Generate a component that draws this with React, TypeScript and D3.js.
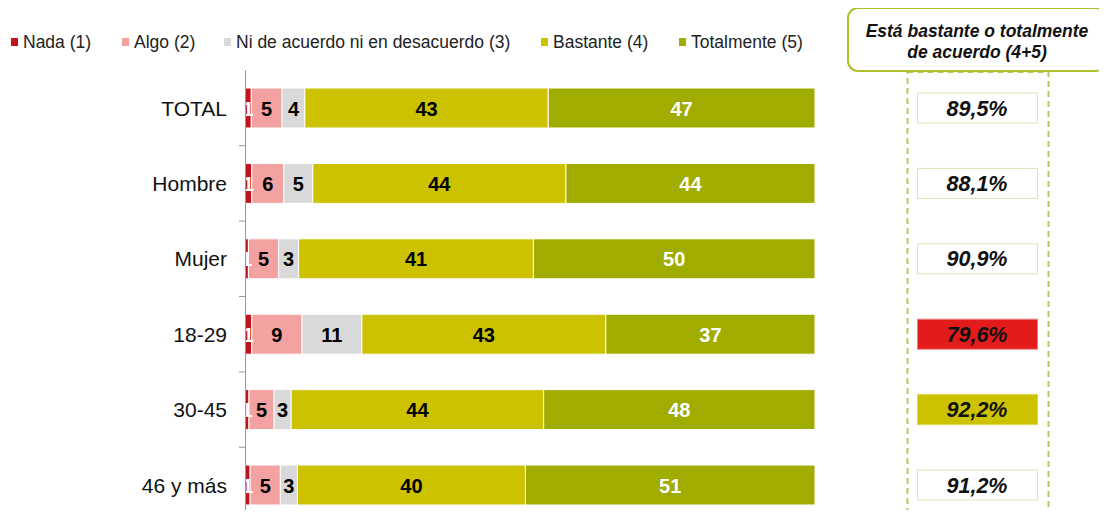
import React from "react";
import * as d3 from "d3";

const categories = ["TOTAL", "Hombre", "Mujer", "18-29", "30-45", "46 y más"];
const seriesNames = ["Nada (1)", "Algo (2)", "Ni de acuerdo ni en desacuerdo (3)", "Bastante (4)", "Totalmente (5)"];
const seriesColors = ["#C0141E", "#F4A1A2", "#D9D9D9", "#CCC200", "#A0AD00"];
const labelColors = ["#ffffff", "#000000", "#000000", "#000000", "#ffffff"];

const nada = [1.1, 1.2, 0.6, 1.2, 0.7, 0.9];
const algo = [5.4, 5.6, 5.3, 8.8, 4.4, 5.3];
const niNi = [4.0, 5.1, 3.5, 10.5, 3.0, 3.0];
const bastante = [42.7, 44.4, 41.2, 42.8, 44.3, 40.0];
const totalmente = [46.8, 43.7, 49.4, 36.7, 47.6, 50.8];
const nadaLabels = ["1", "1", "1", "1", "1", "1"];
const algoLabels = ["5", "6", "5", "9", "5", "5"];
const niLabels = ["4", "5", "3", "11", "3", "3"];
const bastanteLabels = ["43", "44", "41", "43", "44", "40"];
const totalLabels = ["47", "44", "50", "37", "48", "51"];
const agreeTotals = ["89,5%", "88,1%", "90,9%", "79,6%", "92,2%", "91,2%"];
const agreeFill = ["#ffffff", "#ffffff", "#ffffff", "#E31B1B", "#CCC200", "#ffffff"];
const headerLines = ["Está bastante o totalmente", "de acuerdo (4+5)"];

const W = 1107;
const H = 518;
const FONT = "Liberation Sans, Arial, sans-serif";

export default function App() {
  const series = [nada, algo, niNi, bastante, totalmente];
  const labels = [nadaLabels, algoLabels, niLabels, bastanteLabels, totalLabels];
  const x = d3.scaleLinear().domain([0, 100]).range([245, 815]);
  const y = d3.scaleBand().domain(categories).range([70.3, 70.3 + 75.4 * 6]).paddingInner(0.47).paddingOuter(0.235);

  const rows = categories.map((c, i) => {
    let acc = 0;
    return series.map((s, k) => {
      const x0 = acc;
      acc += s[i];
      return { k, x0, x1: acc, label: labels[k][i] };
    });
  });

  const legendX = [11, 122, 224, 541, 679];
  const bandStep = y.step();
  const ticks = categories.slice(1).map((c) => (y(c) as number) - (bandStep - y.bandwidth()) / 2);

  return (
    <div style={{ margin: -8 }}>
      <svg width={W} height={H} style={{ display: "block" }} fontFamily={FONT}>
        <rect width={W} height={H} fill="#fff" />
        {seriesNames.map((n, k) => (
          <g key={n}>
            <rect x={legendX[k]} y={38} width={7} height={8} fill={seriesColors[k]} />
            <text x={legendX[k] + 12} y={48} fontSize={17.5} fill="#222">{n}</text>
          </g>
        ))}
        {rows.map((segs, i) => (
          <g key={categories[i]}>
            {segs.map((s) => (
              <rect key={s.k} x={x(s.x0)} y={y(categories[i])} width={x(s.x1) - x(s.x0)} height={y.bandwidth()}
                fill={seriesColors[s.k]} stroke="#fff" strokeWidth={1} />
            ))}
            {segs.map((s) => (
              <text key={"t" + s.k} x={(x(s.x0) + x(s.x1)) / 2} y={(y(categories[i]) as number) + y.bandwidth() / 2 + 7.5}
                textAnchor="middle" fontSize={20} fontWeight="bold" fill={labelColors[s.k]}>{s.label}</text>
            ))}
            <text x={227} y={(y(categories[i]) as number) + y.bandwidth() / 2 + 7.5} textAnchor="end" fontSize={21} fill="#111">{categories[i]}</text>
          </g>
        ))}
        <line x1={245.5} x2={245.5} y1={70} y2={H} stroke="#999" strokeWidth={1} />
        {ticks.map((t, i) => (
          <line key={i} x1={239} x2={245} y1={t} y2={t} stroke="#999" />
        ))}
        <rect x={907.5} y={72} width={141} height={460} fill="none" stroke="#B9C85A" strokeWidth={2} strokeDasharray="6,4" />
        <rect x={848} y={8} width={258} height={63} rx={10} ry={10} fill="#fff" stroke="#AEBF2A" strokeWidth={2} />
        {headerLines.map((l, j) => (
          <text key={j} x={977} y={37 + j * 21} textAnchor="middle" fontSize={17.5} fontWeight="bold" fontStyle="italic" fill="#111">{l}</text>
        ))}
        {categories.map((c, i) => {
          const cy = (y(c) as number) + y.bandwidth() / 2;
          return (
            <g key={"a" + c}>
              <rect x={917.5} y={cy - 15} width={120} height={30} fill={agreeFill[i]}
                stroke={agreeFill[i] === "#ffffff" ? "#DDE6B4" : agreeFill[i] === "#E31B1B" ? "#F08080" : "#DCD650"} strokeWidth={1} />
              <text x={977} y={cy + 7.5} textAnchor="middle" fontSize={21.5} fontWeight="bold" fontStyle="italic" fill="#111">{agreeTotals[i]}</text>
            </g>
          );
        })}
      </svg>
    </div>
  );
}
